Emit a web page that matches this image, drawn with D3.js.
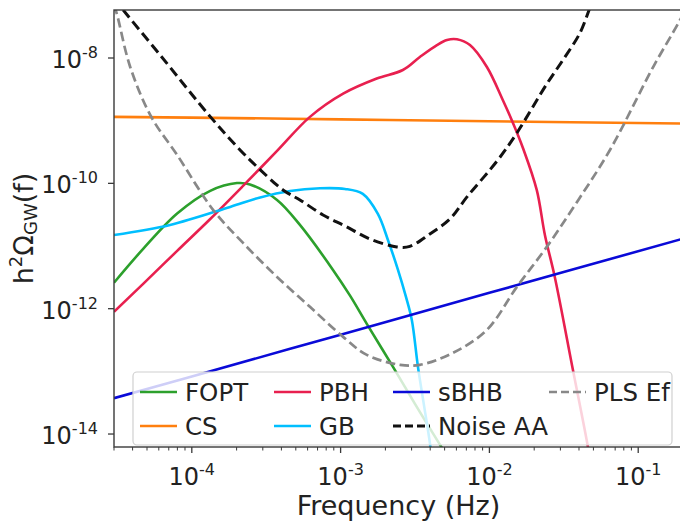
<!DOCTYPE html>
<html>
<head>
<meta charset="utf-8">
<script src="https://cdn.jsdelivr.net/npm/d3@7"></script>
<style>
  body { margin: 0; background: #fff; }
  svg { display: block; font-family: "DejaVu Sans", sans-serif; }
</style>
</head>
<body>
<svg id="chart" width="680" height="523"></svg>
<script>
// --- DATA ---
const fFOPT = [3.0e-5, 4.71e-5, 7.97e-5, 1.33e-4, 2.01e-4, 2.46e-4, 3.74e-4, 5.33e-4, 8.89e-4, 1.16e-3, 1.50e-3, 2.25e-3, 3.16e-3, 4.66e-3, 5.19e-3];
const omegaFOPT = [2.6e-12, 9.0e-12, 3.3e-11, 7.6e-11, 1.01e-10, 9.6e-11, 5.43e-11, 2.17e-11, 4.16e-12, 1.60e-12, 5.73e-13, 1.18e-13, 3.03e-14, 6.7e-15, 4.5e-15];

const fCS = [3.0e-5, 1e-4, 1e-3, 1e-2, 0.2];
const omegaCS = [1.15e-9, 1.12e-9, 1.05e-9, 9.8e-10, 9.0e-10];

const fPBH = [3.0e-5, 4.71e-5, 7.97e-5, 1.33e-4, 2.21e-4, 3.74e-4, 6.22e-4, 1.04e-3, 1.75e-3, 2.62e-3, 3.41e-3, 4.44e-3, 5.19e-3, 6.05e-3, 7.40e-3, 9.62e-3, 1.23e-2, 1.44e-2, 1.68e-2, 2.08e-2, 2.36e-2, 2.75e-2, 3.64e-2, 4.59e-2, 4.73e-2];
const omegaPBH = [8.9e-13, 2.49e-12, 8.36e-12, 2.70e-11, 9.1e-11, 3.29e-10, 1.15e-9, 2.7e-9, 4.7e-9, 6.44e-9, 1.04e-8, 1.61e-8, 1.94e-8, 1.99e-8, 1.61e-8, 7.18e-9, 2.14e-9, 9.19e-10, 3.67e-10, 7.85e-11, 1.50e-11, 3.21e-12, 1.06e-13, 6.25e-15, 3.9e-15];

const fGB = [3.0e-5, 7.14e-5, 1.81e-4, 2.88e-4, 4.57e-4, 7.27e-4, 1.07e-3, 1.41e-3, 1.78e-3, 2.08e-3, 2.43e-3, 2.75e-3, 3.01e-3, 3.31e-3, 3.63e-3, 3.98e-3, 4.17e-3];
const omegaGB = [1.50e-11, 2.17e-11, 4.21e-11, 5.96e-11, 7.57e-11, 8.35e-11, 8.15e-11, 6.78e-11, 3.25e-11, 1.25e-11, 4.16e-12, 1.54e-12, 6.62e-13, 1.18e-13, 2.92e-14, 7.24e-15, 2.7e-15];

const fSBHB = [3.0e-5, 1e-4, 1e-3, 1e-2, 0.2];
const omegaSBHB = [3.74e-14, 8.3e-14, 3.85e-13, 1.79e-12, 1.31e-11];

const fNoise = [3.0e-5, 3.46e-5, 6.12e-5, 1.33e-4, 2.11e-4, 2.75e-4, 4.10e-4, 5.33e-4, 7.62e-4, 1.07e-3, 1.57e-3, 2.39e-3, 2.92e-3, 3.98e-3, 5.43e-3, 7.07e-3, 1.14e-2, 1.53e-2, 2.43e-2, 3.12e-2, 4.06e-2, 4.73e-2, 5.04e-2];
const omegaNoise = [9.06e-8, 5.83e-8, 1.12e-8, 1.16e-9, 3.41e-10, 1.83e-10, 7.85e-11, 5.43e-11, 3.13e-11, 2.09e-11, 1.30e-11, 9.68e-12, 9.86e-12, 1.56e-11, 2.70e-11, 6.07e-11, 2.36e-10, 6.37e-10, 3.85e-9, 9.29e-9, 2.51e-8, 6.26e-8, 9.06e-8];

const fPLS = [3.0e-5, 3.15e-5, 3.85e-5, 5.33e-5, 7.97e-5, 1.39e-4, 2.21e-4, 3.74e-4, 6.22e-4, 1.04e-3, 1.50e-3, 2.51e-3, 3.41e-3, 5.69e-3, 9.62e-3, 1.53e-2, 2.43e-2, 3.84e-2, 6.46e-2, 0.126, 0.191, 0.222];
const omegaPLS = [7.0e-8, 4.85e-8, 7.26e-9, 1.16e-9, 2.84e-10, 3.77e-11, 1.12e-11, 3.21e-12, 1.07e-12, 3.55e-13, 1.83e-13, 1.27e-13, 1.27e-13, 1.97e-13, 4.59e-13, 2.23e-12, 9.68e-12, 4.86e-11, 3.41e-10, 7.18e-9, 4.04e-8, 8.4e-8];

const xMajorTicks = [1e-4, 1e-3, 1e-2, 1e-1];
const yMajorTicks = [1e-8, 1e-10, 1e-12, 1e-14];

// --- SETUP ---
const width = 680, height = 523;
const margin = { top: 10, left: 114, right: -3, bottom: 76 };
const svg = d3.select("#chart");

const x = d3.scaleLog()
    .domain([3e-5, 0.2])
    .range([margin.left, width - margin.right]);
const y = d3.scaleLog()
    .domain([Math.pow(10, -14.207), Math.pow(10, -7.234)])
    .range([height - margin.bottom, margin.top]);

const series = [
    { name: "FOPT", f: fFOPT, omega: omegaFOPT, color: "#2ca02c", lw: 2.6, dash: null },
    { name: "CS", f: fCS, omega: omegaCS, color: "#ff7f0e", lw: 2.6, dash: null },
    { name: "PBH", f: fPBH, omega: omegaPBH, color: "#e8204f", lw: 2.6, dash: null },
    { name: "GB", f: fGB, omega: omegaGB, color: "#00bfff", lw: 2.6, dash: null },
    { name: "sBHB", f: fSBHB, omega: omegaSBHB, color: "#0a0ad8", lw: 2.6, dash: null },
    { name: "Noise AA", f: fNoise, omega: omegaNoise, color: "#111", lw: 3, dash: "10,5" },
    { name: "PLS Ef", f: fPLS, omega: omegaPLS, color: "#888", lw: 2.7, dash: "9.5,4.5" }
];

svg.append("clipPath").attr("id", "plot-clip")
    .append("rect")
    .attr("x", x.range()[0]).attr("y", margin.top)
    .attr("width", x.range()[1] - x.range()[0])
    .attr("height", y.range()[0] - margin.top);

// --- LINES ---
const line = d3.line()
    .x(d => x(d[0]))
    .y(d => y(d[1]))
    .curve(d3.curveCatmullRom.alpha(0.5));

const lines = svg.append("g").attr("clip-path", "url(#plot-clip)");
series.forEach(s => {
    lines.append("path")
        .datum(s.f.map((f, i) => [f, s.omega[i]]))
        .attr("d", line)
        .attr("fill", "none")
        .attr("stroke", s.color)
        .attr("stroke-width", s.lw)
        .attr("stroke-dasharray", s.dash)
        .attr("stroke-linejoin", "round");
});

// --- AXES ---
const axisColor = "#3a3a3a";
const x0 = x.range()[0], x1 = x.range()[1];
const yb = y.range()[0], yt = y.range()[1];

// frame (right spine lies just off canvas)
svg.append("rect")
    .attr("x", x0).attr("y", yt)
    .attr("width", x1 - x0).attr("height", yb - yt)
    .attr("fill", "none").attr("stroke", axisColor).attr("stroke-width", 1.4);

// x minor ticks
const xMinor = [];
for (let e = -5; e <= -1; e++) {
    for (let k = 2; k <= 9; k++) {
        const v = k * Math.pow(10, e);
        if (v >= x.domain()[0] && v <= x.domain()[1]) xMinor.push(v);
    }
}
const axG = svg.append("g");
axG.selectAll(".xminor").data(xMinor).join("line")
    .attr("x1", d => x(d)).attr("x2", d => x(d))
    .attr("y1", yb).attr("y2", yb + 3.5)
    .attr("stroke", axisColor).attr("stroke-width", 1);
axG.selectAll(".xmajor").data(xMajorTicks).join("line")
    .attr("x1", d => x(d)).attr("x2", d => x(d))
    .attr("y1", yb).attr("y2", yb + 6)
    .attr("stroke", axisColor).attr("stroke-width", 1.3);
axG.selectAll(".ymajor").data(yMajorTicks).join("line")
    .attr("x1", x0 - 6).attr("x2", x0)
    .attr("y1", d => y(d)).attr("y2", d => y(d))
    .attr("stroke", axisColor).attr("stroke-width", 1.3);

const expOf = v => Math.round(Math.log10(v));

// x tick labels
xMajorTicks.forEach(v => {
    const t = svg.append("text")
        .attr("x", x(v)).attr("y", yb + 38)
        .attr("text-anchor", "middle")
        .attr("fill", "#222");
    t.append("tspan").attr("font-size", 24).text("10");
    t.append("tspan").attr("font-size", 16).attr("dy", -10).text("-" + Math.abs(expOf(v)));
});

// y tick labels
yMajorTicks.forEach(v => {
    const t = svg.append("text")
        .attr("x", x0 - 16).attr("y", y(v) + 10)
        .attr("text-anchor", "end")
        .attr("fill", "#222");
    t.append("tspan").attr("font-size", 24).text("10");
    t.append("tspan").attr("font-size", 16).attr("dy", -10).text("-" + Math.abs(expOf(v)));
});

// axis titles
svg.append("text")
    .attr("x", (x0 + x1) / 2).attr("y", 515)
    .attr("text-anchor", "middle")
    .attr("font-size", 27).attr("fill", "#222")
    .text("Frequency (Hz)");

const yl = svg.append("text")
    .attr("transform", `translate(33,${(yt + yb) / 2}) rotate(-90)`)
    .attr("text-anchor", "middle")
    .attr("font-size", 27).attr("fill", "#222");
yl.append("tspan").text("h");
yl.append("tspan").attr("font-size", 18).attr("dy", -11).text("2");
yl.append("tspan").attr("dy", 11).text("Ω");
yl.append("tspan").attr("font-size", 18).attr("dy", 4).text("GW");
yl.append("tspan").attr("dy", -4).text("(f)");

// --- LEGEND ---
const legend = svg.append("g");
legend.append("rect")
    .attr("x", 133).attr("y", 372)
    .attr("width", 539).attr("height", 73)
    .attr("rx", 4)
    .attr("fill", "#fff").attr("fill-opacity", 0.8)
    .attr("stroke", "#d0d0d0").attr("stroke-width", 1.2);

const colX = [140, 274, 393, 549];
const rowY = [392, 426];
series.forEach((s, i) => {
    const cx = colX[Math.floor(i / 2)];
    const cy = rowY[i % 2];
    legend.append("line")
        .attr("x1", cx).attr("x2", cx + 37)
        .attr("y1", cy).attr("y2", cy)
        .attr("stroke", s.color)
        .attr("stroke-width", s.lw)
        .attr("stroke-dasharray", s.dash ? "8,4" : null);
    legend.append("text")
        .attr("x", cx + 45).attr("y", cy + 9)
        .attr("font-size", 24.5).attr("fill", "#222")
        .text(s.name);
});
</script>
</body>
</html>
